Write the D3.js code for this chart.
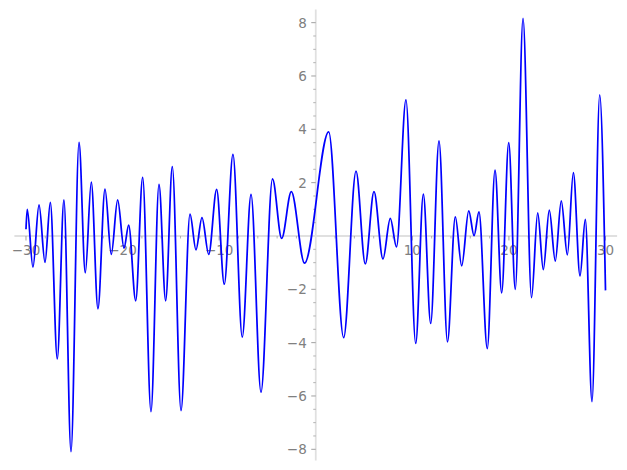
<!DOCTYPE html>
<html>
<head>
<meta charset="utf-8">
<script src="https://cdn.jsdelivr.net/npm/d3@7"></script>
<style>
  html, body { margin: 0; padding: 0; background: #fff; }
  svg { display: block; }
  text { font-family: "DejaVu Sans", sans-serif; }
</style>
</head>
<body>
<script>
// Curve traced through its turning points
const xs = [-30, -29.87, -29.28, -28.65, -28.03, -27.48, -26.76, -26.07, -25.34, -24.51,
  -23.86, -23.24, -22.55, -21.82, -21.17, -20.51, -19.85, -19.37, -18.64, -17.92,
  -17.06, -16.23, -15.54, -14.85, -13.95, -13.02, -12.40, -11.78, -11.08, -10.26,
  -9.47, -8.57, -7.61, -6.70, -5.67, -4.48, -3.53, -2.53, -1.16, 1.34,
  2.89, 4.17, 5.13, 6.03, 6.96, 7.72, 8.36, 9.34, 10.35, 11.14,
  11.90, 12.76, 13.64, 14.45, 15.11, 15.84, 16.39, 16.90, 17.76, 18.56,
  19.25, 19.98, 20.66, 21.46, 22.34, 22.98, 23.56, 24.18, 24.80, 25.42,
  26.05, 26.67, 27.36, 27.91, 28.60, 29.40, 30];
const ys = [0.25, 1.0, -1.17, 1.17, -0.99, 1.26, -4.61, 1.35, -8.09, 3.51,
  -1.38, 2.02, -2.73, 1.76, -0.69, 1.35, -0.46, 0.41, -2.43, 2.20,
  -6.59, 1.94, -2.43, 2.60, -6.55, 0.82, -0.52, 0.69, -0.69, 1.75,
  -1.81, 3.06, -3.79, 1.56, -5.86, 2.14, -0.09, 1.66, -1.02, 3.90,
  -3.81, 2.43, -1.05, 1.66, -0.86, 0.66, -0.41, 5.10, -4.03, 1.57,
  -3.28, 3.57, -3.97, 0.72, -1.12, 0.94, 0.01, 0.90, -4.22, 2.47,
  -2.13, 3.50, -2.00, 8.16, -2.31, 0.87, -1.26, 0.97, -0.94, 1.32,
  -0.71, 2.38, -1.50, 0.62, -6.21, 5.29, -2.04];

const xMajorTicks = [-30, -20, -10, 10, 20, 30];
const xMajorLabels = ["\u221230", "\u221220", "\u221210", "10", "20", "30"];
const yMajorTicks = [-8, -6, -4, -2, 2, 4, 6, 8];
const yMajorLabels = ["\u22128", "\u22126", "\u22124", "\u22122", "2", "4", "6", "8"];
const xDomain = [-31.2, 31.2];
const yDomain = [-8.42, 8.49];

const W = 627, H = 470;
const svg = d3.select("body").append("svg").attr("width", W).attr("height", H);

const x = d3.scaleLinear().domain(xDomain).range([14.4, 617.1]);
const y = d3.scaleLinear().domain(yDomain).range([460.5, 9.6]);

const axisCol = "#e0e0e0", tickCol = "#a0a0a0", labCol = "#808080";

// axis lines
svg.append("line").attr("x1", x(xDomain[0])).attr("x2", x(xDomain[1]))
  .attr("y1", y(0)).attr("y2", y(0)).attr("stroke", axisCol).attr("stroke-width", 1.8);
svg.append("line").attr("x1", x(0)).attr("x2", x(0))
  .attr("y1", y(yDomain[0])).attr("y2", y(yDomain[1])).attr("stroke", axisCol).attr("stroke-width", 1.8);

// minor ticks
const xMinor = d3.range(-30, 31, 2).filter(v => v % 10 !== 0);
const yMinor = d3.range(-8, 8.01, 0.5).filter(v => Math.abs(v % 2) > 1e-9);
const g = svg.append("g");
g.selectAll(".xmin").data(xMinor).join("line")
  .attr("x1", d => x(d)).attr("x2", d => x(d))
  .attr("y1", y(0)).attr("y2", y(0) + 2.5).attr("stroke", tickCol).attr("stroke-width", 0.8);
g.selectAll(".ymin").data(yMinor).join("line")
  .attr("y1", d => y(d)).attr("y2", d => y(d))
  .attr("x1", x(0)).attr("x2", x(0) - 2.5).attr("stroke", tickCol).attr("stroke-width", 0.8);
// major ticks
g.selectAll(".xmaj").data(xMajorTicks).join("line")
  .attr("x1", d => x(d)).attr("x2", d => x(d))
  .attr("y1", y(0)).attr("y2", y(0) + 4.5).attr("stroke", tickCol).attr("stroke-width", 1);
g.selectAll(".ymaj").data(yMajorTicks).join("line")
  .attr("y1", d => y(d)).attr("y2", d => y(d))
  .attr("x1", x(0)).attr("x2", x(0) - 4.5).attr("stroke", tickCol).attr("stroke-width", 1);

// labels
g.selectAll(".xl").data(xMajorTicks).join("text")
  .attr("x", d => x(d)).attr("y", y(0) + 19.5)
  .attr("text-anchor", "middle").attr("font-size", 13.5).attr("fill", labCol)
  .text((d, i) => xMajorLabels[i]);
g.selectAll(".yl").data(yMajorTicks).join("text")
  .attr("x", x(0) - 9).attr("y", d => y(d)).attr("dy", "0.36em")
  .attr("text-anchor", "end").attr("font-size", 13.5).attr("fill", labCol)
  .text((d, i) => yMajorLabels[i]);

// curve
const pts = xs.map((v, i) => [v, ys[i]]);
const line = d3.line().x(d => x(d[0])).y(d => y(d[1])).curve(d3.curveMonotoneX);
svg.append("path").datum(pts).attr("d", line)
  .attr("fill", "none").attr("stroke", "#0000ff").attr("stroke-width", 1.75);
</script>
</body>
</html>
